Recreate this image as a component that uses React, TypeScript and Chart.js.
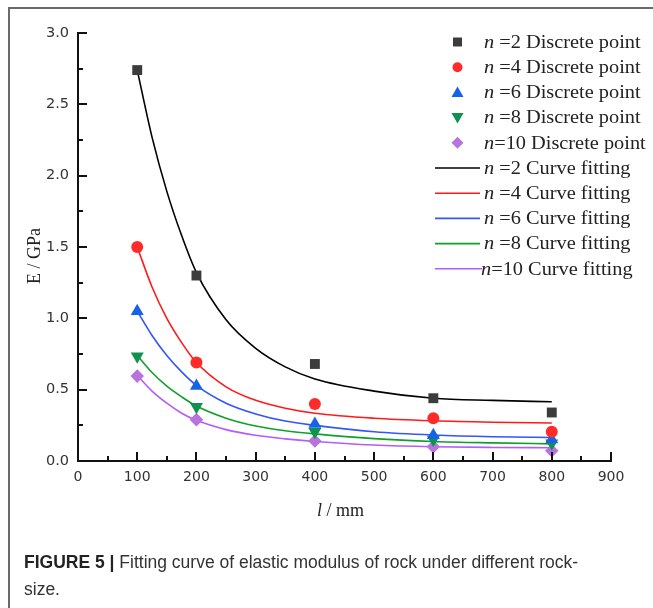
import React, { useEffect, useRef } from "react";
import { Chart, registerables } from "chart.js";

Chart.register(...registerables);

// ---- data ----
const xPoints = [100, 200, 400, 600, 800];
const n2Points = [2.74, 1.3, 0.68, 0.44, 0.34];
const n4Points = [1.5, 0.69, 0.4, 0.3, 0.205];
const n6Points = [1.05, 0.525, 0.26, 0.18, 0.15];
const n8Points = [0.735, 0.38, 0.205, 0.15, 0.124];
const n10Points = [0.595, 0.29, 0.14, 0.1, 0.072];

const xCurve = [100, 125, 150, 175, 200, 250, 300, 350, 400, 500, 600, 700, 800];
const n2Curve = [2.74, 2.27, 1.89, 1.58, 1.32, 0.99, 0.79, 0.66, 0.575, 0.49, 0.44, 0.425, 0.415];
const n4Curve = [1.5, 1.22, 1.0, 0.83, 0.69, 0.52, 0.425, 0.37, 0.335, 0.3, 0.282, 0.272, 0.266];
const n6Curve = [1.05, 0.88, 0.74, 0.625, 0.53, 0.405, 0.33, 0.28, 0.25, 0.205, 0.182, 0.17, 0.165];
const n8Curve = [0.74, 0.62, 0.525, 0.45, 0.385, 0.3, 0.245, 0.212, 0.19, 0.157, 0.137, 0.127, 0.12];
const n10Curve = [0.6, 0.49, 0.405, 0.335, 0.285, 0.22, 0.18, 0.155, 0.137, 0.112, 0.1, 0.095, 0.093];

const pointLabels = ["=2 Discrete point", "=4 Discrete point", "=6 Discrete point", "=8 Discrete point", "=10 Discrete point"];
const curveLabels = ["=2 Curve fitting", "=4 Curve fitting", "=6 Curve fitting", "=8 Curve fitting", "=10 Curve fitting"];

const xTitle = ["l", " / mm"];
const yTitle = "E / GPa";

const pointColors = ["#3c3c3c", "#ff2a2a", "#1763e8", "#0f9150", "#b774dc"];
const lineColors = ["#000000", "#ff1a1a", "#2f56ff", "#10a02a", "#b35cff"];
const pointStyles = ["rect", "circle", "triangle", "triangle", "rectRot"];
const pointRotations = [0, 0, 0, 180, 0];
const pointRadii = [7, 6, 7.5, 7.5, 6.8];

const allPoints = [n2Points, n4Points, n6Points, n8Points, n10Points];
const allCurves = [n2Curve, n4Curve, n6Curve, n8Curve, n10Curve];

const SERIF = '"Liberation Serif", "Times New Roman", serif';
const SANS = '"DejaVu Sans", Verdana, sans-serif';
const LEGEND_STRETCH = 1.13;

function drawMarker(ctx: CanvasRenderingContext2D, i: number, cx: number, cy: number) {
  ctx.fillStyle = pointColors[i];
  ctx.beginPath();
  if (i === 0) {
    ctx.rect(cx - 4.5, cy - 4.5, 9, 9);
  } else if (i === 1) {
    ctx.arc(cx, cy, 5, 0, Math.PI * 2);
  } else if (i === 2) {
    ctx.moveTo(cx, cy - 6);
    ctx.lineTo(cx + 6, cy + 4.5);
    ctx.lineTo(cx - 6, cy + 4.5);
    ctx.closePath();
  } else if (i === 3) {
    ctx.moveTo(cx, cy + 6);
    ctx.lineTo(cx + 6, cy - 4.5);
    ctx.lineTo(cx - 6, cy - 4.5);
    ctx.closePath();
  } else {
    ctx.moveTo(cx, cy - 6);
    ctx.lineTo(cx + 6, cy);
    ctx.lineTo(cx, cy + 6);
    ctx.lineTo(cx - 6, cy);
    ctx.closePath();
  }
  ctx.fill();
}

function drawNLabel(ctx: CanvasRenderingContext2D, x: number, y: number, rest: string) {
  ctx.save();
  ctx.translate(x, y);
  ctx.scale(LEGEND_STRETCH, 1);
  ctx.font = `italic 18px ${SERIF}`;
  ctx.fillText("n", 0, 0);
  const w = ctx.measureText("n").width;
  ctx.font = `18px ${SERIF}`;
  ctx.fillText(rest, w, 0);
  ctx.restore();
}

const decorPlugin = {
  id: "decor",
  afterDraw(chart: any) {
    const ctx: CanvasRenderingContext2D = chart.ctx;
    const xs = chart.scales.x;
    const ys = chart.scales.y;
    const area = chart.chartArea;
    ctx.save();
    // inward ticks
    ctx.strokeStyle = "#111";
    ctx.lineWidth = 2;
    for (let v = 0; v <= 900; v += 50) {
      const px = Math.round(xs.getPixelForValue(v));
      const len = v % 100 === 0 ? 9 : 5;
      ctx.beginPath();
      ctx.moveTo(px, area.bottom);
      ctx.lineTo(px, area.bottom - len);
      ctx.stroke();
    }
    for (let k = 0; k <= 12; k++) {
      const v = k * 0.25;
      const py = Math.round(ys.getPixelForValue(v));
      const len = k % 2 === 0 ? 9 : 5;
      ctx.beginPath();
      ctx.moveTo(area.left, py);
      ctx.lineTo(area.left + len, py);
      ctx.stroke();
    }

    // axis titles
    ctx.fillStyle = "#222";
    ctx.textBaseline = "middle";
    ctx.textAlign = "left";
    ctx.font = `italic 18px ${SERIF}`;
    const w1 = ctx.measureText(xTitle[0]).width;
    ctx.font = `18px ${SERIF}`;
    const w2 = ctx.measureText(xTitle[1]).width;
    const cx = (area.left + area.right) / 2 - 4;
    const sx = cx - (w1 + w2) / 2;
    ctx.font = `italic 18px ${SERIF}`;
    ctx.fillText(xTitle[0], sx, 511);
    ctx.font = `18px ${SERIF}`;
    ctx.fillText(xTitle[1], sx + w1, 511);

    ctx.save();
    ctx.translate(35, 256);
    ctx.rotate(-Math.PI / 2);
    ctx.textAlign = "center";
    ctx.font = `18px ${SERIF}`;
    ctx.fillText(yTitle, 0, 0);
    ctx.restore();

    // legend
    const rowY0 = 42;
    const rowStep = 25.2;
    for (let i = 0; i < 5; i++) {
      const y = rowY0 + i * rowStep;
      drawMarker(ctx, i, 457.5, y);
      ctx.fillStyle = "#222";
      drawNLabel(ctx, 484, y + 1, i === 4 ? pointLabels[i] : " " + pointLabels[i]);
    }
    for (let i = 0; i < 5; i++) {
      const y = rowY0 + (i + 5) * rowStep;
      ctx.strokeStyle = lineColors[i];
      ctx.lineWidth = 1.6;
      ctx.beginPath();
      ctx.moveTo(435, y);
      ctx.lineTo(i === 4 ? 482 : 480, y);
      ctx.stroke();
      ctx.fillStyle = "#222";
      drawNLabel(ctx, i === 4 ? 481 : 484, y + 1, i === 4 ? curveLabels[i] : " " + curveLabels[i]);
    }
    ctx.restore();
  },
};

export default function App() {
  const canvasRef = useRef<HTMLCanvasElement>(null);

  useEffect(() => {
    if (!canvasRef.current) return;
    const datasets: any[] = [];
    for (let i = 0; i < 5; i++) {
      datasets.push({
        type: "scatter",
        label: "pts" + i,
        data: xPoints.map((x, j) => ({ x, y: allPoints[i][j] })),
        showLine: false,
        pointStyle: pointStyles[i],
        rotation: pointRotations[i],
        pointRadius: pointRadii[i],
        pointBackgroundColor: pointColors[i],
        pointBorderColor: pointColors[i],
        pointBorderWidth: 0,
        order: 0,
      });
    }
    for (let i = 0; i < 5; i++) {
      datasets.push({
        type: "line",
        label: "fit" + i,
        data: xCurve.map((x, j) => ({ x, y: allCurves[i][j] })),
        borderColor: lineColors[i],
        borderWidth: 1.6,
        pointRadius: 0,
        fill: false,
        cubicInterpolationMode: "monotone",
        order: 1,
      });
    }

    const chart = new Chart(canvasRef.current, {
      type: "scatter",
      data: { datasets },
      options: {
        animation: false,
        responsive: false,
        devicePixelRatio: 1,
        layout: { padding: { left: 0, right: 42, top: 33, bottom: 0 } },
        plugins: { legend: { display: false }, tooltip: { enabled: false } },
        scales: {
          x: {
            type: "linear",
            min: 0,
            max: 900,
            afterFit: (s: any) => {
              s.height = 69;
            },
            ticks: {
              stepSize: 100,
              padding: 8,
              color: "#333",
              font: { family: SANS, size: 14 },
              maxRotation: 0,
            },
            grid: { drawOnChartArea: false, drawTicks: false },
            border: { display: true, color: "#111", width: 2 },
          },
          y: {
            type: "linear",
            min: 0,
            max: 3,
            afterFit: (s: any) => {
              s.width = 78;
            },
            ticks: {
              stepSize: 0.5,
              padding: 9,
              color: "#333",
              font: { family: SANS, size: 14.5 },
              callback: (v: any) => Number(v).toFixed(1),
            },
            grid: { drawOnChartArea: false, drawTicks: false },
            border: { display: true, color: "#111", width: 2 },
          },
        },
      },
      plugins: [decorPlugin],
    } as any);
    return () => chart.destroy();
  }, []);

  return (
    <div>
      <div
        style={{
          position: "fixed",
          left: 8,
          top: 7,
          width: 645,
          height: 601,
          borderTop: "2px solid #6a6a6a",
          borderLeft: "2px solid #6a6a6a",
          boxSizing: "border-box",
        }}
      />
      <canvas
        ref={canvasRef}
        width={653}
        height={530}
        style={{ position: "fixed", left: 0, top: 0, width: 653, height: 530 }}
      />
      <div
        style={{
          position: "fixed",
          left: 24,
          top: 549,
          width: 575,
          fontFamily: '"Liberation Sans", Arial, sans-serif',
          fontSize: 17.5,
          lineHeight: "27px",
          color: "#333",
        }}
      >
        <b style={{ color: "#222" }}>FIGURE 5 |</b> Fitting curve of elastic modulus of rock under different rock-size.
      </div>
    </div>
  );
}
